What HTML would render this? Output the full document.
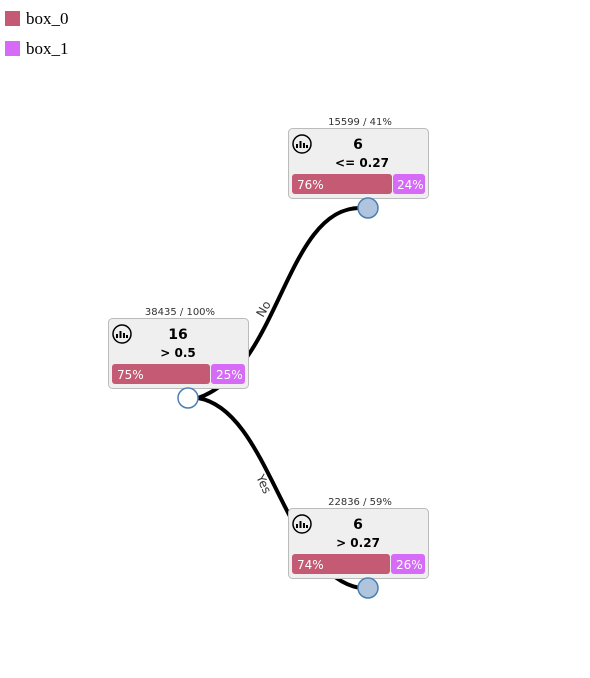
<!DOCTYPE html>
<html><head><style>body{margin:0;background:#fff}svg{display:block}</style></head><body>
<svg width="590" height="678" xmlns="http://www.w3.org/2000/svg" font-family="DejaVu Sans, sans-serif">
<rect x="5" y="11" width="15" height="15" fill="#c45a73"/>
<text x="26" y="24" font-family="Liberation Serif, serif" font-size="17">box_0</text>
<rect x="5" y="41" width="15" height="15" fill="#d56bf6"/>
<text x="26" y="54" font-family="Liberation Serif, serif" font-size="17">box_1</text>
<g fill="none" stroke="#000" stroke-width="4">
<path d="M198 398 C280 370 285 208 360 208"/>
<path d="M198 398 C270 410 285 575 360 588"/>
</g>
<text transform="translate(263,318) rotate(-60)" font-size="12" fill="#333">No</text>
<text transform="translate(256,477) rotate(65)" font-size="12" fill="#333">Yes</text>
<g id="n">
</g>
<!-- root -->
<text x="180" y="315" font-size="10" fill="#333" text-anchor="middle">38435 / 100%</text>
<rect x="108.5" y="318.5" width="140" height="70" rx="4" fill="#efefef" stroke="#bbb"/>
<text x="178" y="339" font-size="14" font-weight="bold" text-anchor="middle">16</text>
<text x="178" y="357" font-size="12" font-weight="bold" text-anchor="middle">&gt; 0.5</text>
<rect x="112" y="364" width="98" height="20" rx="3" fill="#c45a73"/>
<rect x="211" y="364" width="34" height="20" rx="3" fill="#d56bf6"/>
<text x="117" y="379" font-size="12" fill="#fff">75%</text>
<text x="216" y="379" font-size="12" fill="#fff">25%</text>
<circle cx="122" cy="334" r="9" fill="none" stroke="#000" stroke-width="1.5"/>
<path d="M117 338v-4M120.5 338v-7M124 338v-5M127 338v-3" stroke="#000" stroke-width="2"/>
<circle cx="188" cy="398" r="10" fill="#fff" stroke="#4a7fb5" stroke-width="1.5"/>
<!-- top -->
<text x="360" y="125" font-size="10" fill="#333" text-anchor="middle">15599 / 41%</text>
<rect x="288.5" y="128.5" width="140" height="70" rx="4" fill="#efefef" stroke="#bbb"/>
<text x="358" y="149" font-size="14" font-weight="bold" text-anchor="middle">6</text>
<text x="362" y="167" font-size="12" font-weight="bold" text-anchor="middle">&lt;= 0.27</text>
<rect x="292" y="174" width="100" height="20" rx="3" fill="#c45a73"/>
<rect x="393" y="174" width="32" height="20" rx="3" fill="#d56bf6"/>
<text x="297" y="189" font-size="12" fill="#fff">76%</text>
<text x="397" y="189" font-size="12" fill="#fff">24%</text>
<circle cx="302" cy="144" r="9" fill="none" stroke="#000" stroke-width="1.5"/>
<path d="M297 148v-4M300.5 148v-7M304 148v-5M307 148v-3" stroke="#000" stroke-width="2"/>
<circle cx="368" cy="208" r="10" fill="#b0c4de" stroke="#4a7fb5" stroke-width="1.5"/>
<!-- bottom -->
<text x="360" y="505" font-size="10" fill="#333" text-anchor="middle">22836 / 59%</text>
<rect x="288.5" y="508.5" width="140" height="70" rx="4" fill="#efefef" stroke="#bbb"/>
<text x="358" y="529" font-size="14" font-weight="bold" text-anchor="middle">6</text>
<text x="358" y="547" font-size="12" font-weight="bold" text-anchor="middle">&gt; 0.27</text>
<rect x="292" y="554" width="98" height="20" rx="3" fill="#c45a73"/>
<rect x="391" y="554" width="34" height="20" rx="3" fill="#d56bf6"/>
<text x="297" y="569" font-size="12" fill="#fff">74%</text>
<text x="396" y="569" font-size="12" fill="#fff">26%</text>
<circle cx="302" cy="524" r="9" fill="none" stroke="#000" stroke-width="1.5"/>
<path d="M297 528v-4M300.5 528v-7M304 528v-5M307 528v-3" stroke="#000" stroke-width="2"/>
<circle cx="368" cy="588" r="10" fill="#b0c4de" stroke="#4a7fb5" stroke-width="1.5"/>
</svg>
</body></html>
